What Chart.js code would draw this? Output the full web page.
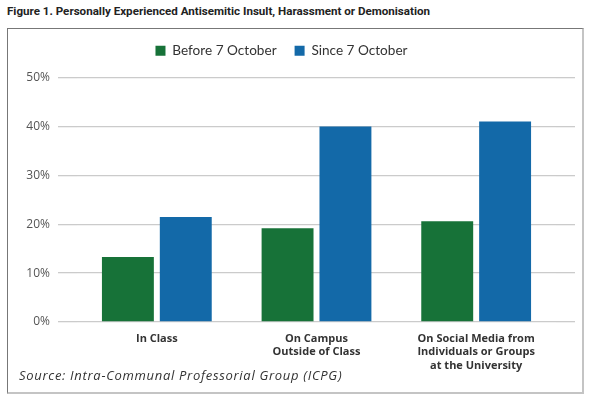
<!DOCTYPE html>
<html>
<head>
<meta charset="utf-8">
<script src="https://cdn.jsdelivr.net/npm/chart.js@4/dist/chart.umd.min.js"></script>
<style>
  html, body { margin: 0; padding: 0; background: #fff; }
  #wrap { position: relative; width: 591px; height: 397px; overflow: hidden; }
  #title { position: absolute; left: 7px; top: 4px; font: bold 11.6px "Roboto", sans-serif; color: #222; white-space: nowrap; }
  #box { position: absolute; left: 7px; top: 28px; width: 574px; height: 363px;
         border-top: 1px solid #777; border-left: 1px solid #777;
         border-right: 2px solid #c4c4c4; border-bottom: 2px solid #c4c4c4; }
  #source { position: absolute; left: 19px; top: 366px; font: italic 13px "Open Sans", sans-serif; letter-spacing: 0.7px; color: #333; white-space: nowrap; }
  #chart { position: absolute; left: 0; top: 0; }
</style>
</head>
<body>
<div id="wrap">
  <div id="title">Figure 1. Personally Experienced Antisemitic Insult, Harassment or Demonisation</div>
  <div id="box"></div>
  <canvas id="chart" width="591" height="397"></canvas>
  <div id="source">Source: Intra-Communal Professorial Group (ICPG)</div>
</div>
<script>
var categories = [
  ["In Class"],
  ["On Campus", "Outside of Class"],
  ["On Social Media from", "Individuals or Groups", "at the University"]
];
var seriesNames = ["Before 7 October", "Since 7 October"];
var beforeValues = [13.3, 19.2, 20.6];
var sinceValues = [21.5, 40.0, 41.0];
var yTicks = [0, 10, 20, 30, 40, 50];
var seriesColors = ["#177238", "#1369a8"];

// nudge the legend up and left to where the original one sits
var legendShift = {
  id: 'legendShift',
  afterLayout: function(chart) {
    var lg = chart.legend;
    lg.left -= 6;
    lg.right -= 6;
    lg.top -= 10;
    lg.bottom -= 10;
  }
};

new Chart(document.getElementById("chart"), {
  type: 'bar',
  data: {
    labels: categories,
    datasets: [{
      label: seriesNames[0],
      data: beforeValues,
      backgroundColor: seriesColors[0]
    }, {
      label: seriesNames[1],
      data: sinceValues,
      backgroundColor: seriesColors[1]
    }]
  },
  options: {
    responsive: false,
    animation: false,
    layout: { padding: { left: 0, right: 16, top: 36, bottom: 15 } },
    datasets: {
      bar: { categoryPercentage: 0.725, barPercentage: 0.897 }
    },
    plugins: {
      legend: {
        position: 'top',
        labels: {
          boxWidth: 10, boxHeight: 10, padding: 18,
          color: '#333',
          font: { family: 'Lato', size: 13.6 }
        }
      },
      tooltip: { enabled: false }
    },
    scales: {
      x: {
        grid: { display: false, drawTicks: false },
        border: { display: false },
        ticks: {
          color: '#333', padding: 10,
          font: { family: 'Open Sans', size: 11, weight: 'bold', lineHeight: 1.23 },
          maxRotation: 0
        },
        afterFit: function(scale) { scale.height = 60; }
      },
      y: {
        min: 0, max: 50,
        grid: { color: '#cbcbcb', lineWidth: 1.3, tickLength: 19, tickColor: '#cbcbcb' },
        border: { display: false },
        afterBuildTicks: function(scale) {
          scale.ticks = yTicks.map(function(v) { return { value: v }; });
        },
        ticks: {
          color: '#555', padding: 8,
          font: { family: 'Open Sans', size: 12 },
          callback: function(v) { return v + '%'; }
        },
        afterFit: function(scale) { scale.width = 77; }
      },
      y2: {
        position: 'right',
        min: 0, max: 50,
        grid: { color: '#cbcbcb', lineWidth: 1.3, tickLength: 19, tickColor: '#cbcbcb', drawOnChartArea: false },
        border: { display: false },
        afterBuildTicks: function(scale) {
          scale.ticks = yTicks.map(function(v) { return { value: v }; });
        },
        ticks: { display: false },
        afterFit: function(scale) { scale.width = 19; }
      }
    }
  },
  plugins: [legendShift]
});
</script>
</body>
</html>
